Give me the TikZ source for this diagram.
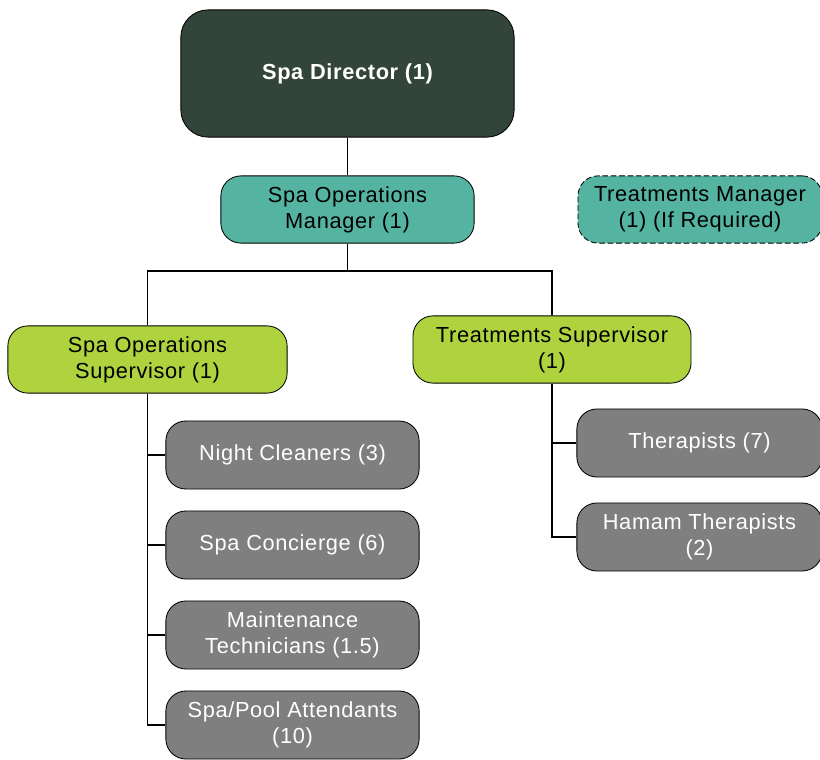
\documentclass[tikz,border=0pt]{standalone}
\usepackage{fontspec}
\setmainfont{Liberation Sans}[LetterSpace=3]
\usetikzlibrary{positioning}
\definecolor{dirgreen}{HTML}{33443A}
\definecolor{teal}{HTML}{55B3A1}
\definecolor{lime}{HTML}{AED33F}
\definecolor{staffgray}{HTML}{7F7F7F}
\begin{document}
\begin{tikzpicture}
[x=0.025cm, y=-0.025cm, font=\fontsize{15.5}{18.5}\selectfont,
box/.style={rectangle, draw=black, line width=0.6pt, rounded corners=0.5cm, align=center, inner sep=0pt, minimum height=1.68cm},
director/.style={box, fill=dirgreen, text=white, font=\fontsize{15.5}{18.5}\selectfont\bfseries, rounded corners=0.68cm, minimum width=8.33cm, minimum height=3.18cm},
manager/.style={box, fill=teal, text=black},
optional/.style={manager, dash pattern=on 4pt off 2pt},
supervisor/.style={box, fill=lime, text=black},
staff/.style={box, fill=staffgray, text=white, minimum height=1.7cm},
link/.style={draw=black, line width=1pt}]

\clip (0,0) rectangle (820,760);

\node[director] (dir) at (347.5,73.5) {Spa Director (1)};
\node[manager, minimum width=6.33cm] (opsmgr) at (347.5,209.5) {Spa Operations\\Manager (1)};
\node[optional, minimum width=6.1cm] (trmgr) at (700,209.5) {Treatments Manager\\(1) (If Required)};

\node[supervisor, minimum width=6.98cm] (opsup) at (147.5,359.5) {Spa Operations\\Supervisor (1)};
\node[supervisor, minimum width=6.95cm] (trsup) at (552,349.5) {Treatments Supervisor\\(1)};

\node[staff, minimum width=6.33cm] (night) at (292.5,455) {Night Cleaners (3)};
\node[staff, minimum width=6.33cm] (concierge) at (292.5,545) {Spa Concierge (6)};
\node[staff, minimum width=6.33cm] (maint) at (292.5,635) {Maintenance\\Technicians (1.5)};
\node[staff, minimum width=6.33cm] (pool) at (292.5,725) {Spa/Pool Attendants\\(10)};

\node[staff, minimum width=6.13cm] (ther) at (699.5,443) {Therapists (7)};
\node[staff, minimum width=6.13cm] (hamam) at (699.5,537) {Hamam Therapists\\(2)};

\coordinate (split) at (347.5,271);

\draw[link] (dir) -- (opsmgr);
\draw[link] (opsmgr) -- (split);
\draw[link] (opsup.north) |- (split) -| (trsup.north);

\draw[link] (opsup.south) |- (pool.west);
\foreach \n in {night,concierge,maint} {
  \draw[link] (opsup.south |- \n.west) -- (\n.west);
}

\draw[link] (trsup.south) |- (hamam.west);
\draw[link] (trsup.south |- ther.west) -- (ther.west);
\end{tikzpicture}
\end{document}
